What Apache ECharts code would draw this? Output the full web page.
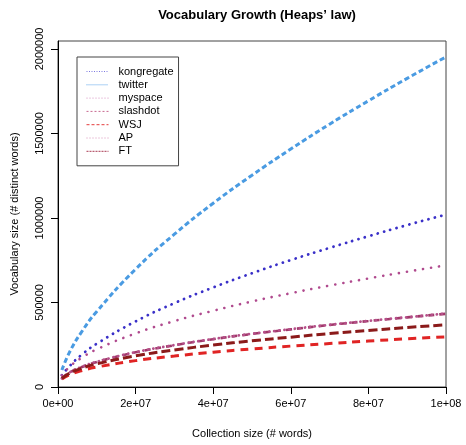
<!DOCTYPE html>
<html lang="en">

<head>
    <meta charset="UTF-8">
    <title>Vocabulary Growth</title>
    <script src="https://cdn.jsdelivr.net/npm/echarts@6/dist/echarts.min.js"></script>
    <style>
        body { margin: 0; background: #fff; }
        #container { width: 466px; height: 445px; }
    </style>
</head>

<body>
    <div id="container"></div>
    <script>
        var sizes = [1e6, 3e6, 6e6, 1e7, 2e7, 3e7, 4e7, 5e7, 6e7, 7e7, 8e7, 9e7, 1e8];

        // vocabulary sizes, thousands of distinct words
        var kongregate = [70, 124, 189, 256, 388, 496, 589, 673, 751, 823, 892, 958, 1020];
        var twitter = [100, 207, 323, 447, 697, 904, 1087, 1253, 1408, 1555, 1693, 1826, 1953];
        var myspace = [69, 120, 171, 223, 317, 390, 451, 506, 555, 600, 642, 682, 720];
        var slashdot = [51, 85, 117, 148, 205, 247, 283, 314, 341, 367, 390, 412, 433];
        var wsj = [47, 73, 96, 118, 156, 183, 206, 225, 242, 257, 272, 285, 297];
        var ap = [52, 86, 118, 149, 206, 248, 284, 315, 342, 368, 391, 413, 435];
        var ft = [51, 81, 110, 137, 184, 219, 248, 273, 295, 316, 334, 352, 368];

        var xTicks = [0, 2e7, 4e7, 6e7, 8e7, 1e8];
        var yTicks = [0, 500000, 1000000, 1500000, 2000000];

        function sci(v) {
            if (v === 0) return '0e+00';
            var e = Math.floor(Math.log10(v));
            var m = Math.round(v / Math.pow(10, e) * 100) / 100;
            return m + 'e+' + (e < 10 ? '0' + e : e);
        }

        function pairs(vals) {
            var out = [];
            for (var i = 0; i < sizes.length; i++) {
                out.push([sizes[i], vals[i] * 1000]);
            }
            return out;
        }

        function line(name, vals, color, width, dash, cap) {
            return {
                name: name,
                type: 'line',
                data: pairs(vals),
                smooth: true,
                symbol: 'none',
                silent: true,
                color: color,
                lineStyle: { color: color, width: width, type: dash, cap: cap }
            };
        }

        // thin legend samples, like the plot's key
        function key(name, color, dash) {
            return { name: name, lineStyle: { color: color, width: 1, type: dash, cap: 'butt' } };
        }

        var font = 'Liberation Sans, Arial, sans-serif';
        var chart = echarts.init(document.getElementById('container'));

        chart.setOption({
            animation: false,
            backgroundColor: '#fff',
            textStyle: { fontFamily: font },
            title: {
                text: 'Vocabulary Growth (Heaps’ law)',
                left: 252,
                textAlign: 'center',
                top: 4,
                textStyle: { fontSize: 13, fontWeight: 'bold', color: '#000', fontFamily: font }
            },
            legend: {
                orient: 'vertical',
                left: 77,
                top: 57,
                padding: [9, 5, 9, 9],
                itemGap: 2.3,
                itemWidth: 22,
                itemHeight: 10,
                borderColor: '#444',
                borderWidth: 1,
                borderRadius: 0,
                itemStyle: { opacity: 0 },
                textStyle: { fontSize: 11, color: '#000', fontFamily: font, padding: [0, 0, 0, 5] },
                data: [
                    key('kongregate', '#7c78e0', [1, 1.5]),
                    key('twitter', '#5aa4ec', [1, 1]),
                    key('myspace', '#d890c0', [1, 2]),
                    key('slashdot', '#c86890', [2, 2]),
                    key('WSJ', '#e43c3c', [3, 2]),
                    key('AP', '#d890b8', [1, 2]),
                    key('FT', '#a83850', [2, 1])
                ]
            },
            grid: {
                left: 58, right: 20, top: 41, bottom: 58,
                show: true, borderColor: '#444', borderWidth: 1
            },
            xAxis: {
                type: 'value',
                min: 0, max: 1e8, interval: 2e7,
                name: 'Collection size (# words)',
                nameLocation: 'middle',
                nameGap: 41,
                nameTextStyle: { fontSize: 11, color: '#000' },
                axisLine: { show: true, lineStyle: { color: '#000' } },
                axisTick: { show: true, length: 7, lineStyle: { color: '#000' }, customValues: xTicks },
                axisLabel: { fontSize: 11, color: '#000', margin: 11, formatter: sci, customValues: xTicks },
                splitLine: { show: false }
            },
            yAxis: {
                type: 'value',
                min: 0, max: 2047000,
                name: 'Vocabulary size (# distinct words)',
                nameLocation: 'middle',
                nameGap: 38,
                nameTextStyle: { fontSize: 11, color: '#000' },
                axisLine: { show: true, lineStyle: { color: '#000' } },
                axisTick: { show: true, length: 7, lineStyle: { color: '#000' }, customValues: yTicks },
                axisLabel: {
                    fontSize: 11, color: '#000', margin: 13, rotate: 90,
                    formatter: function (v) { return String(v); },
                    customValues: yTicks
                },
                splitLine: { show: false }
            },
            series: [
                line('kongregate', kongregate, '#3a30c8', 2.8, [0.1, 6.5], 'round'),
                line('twitter', twitter, '#4a9be2', 3, [5, 3], 'butt'),
                line('myspace', myspace, '#b04a8e', 2.6, [0.1, 8], 'round'),
                line('slashdot', slashdot, '#a03868', 2.6, [6, 5], 'butt'),
                line('WSJ', wsj, '#e02424', 3, [8, 6], 'butt'),
                line('AP', ap, '#b5508a', 2.8, [0.1, 5], 'round'),
                line('FT', ft, '#8b1a1a', 3, [9, 4], 'butt')
            ]
        });
    </script>
</body>

</html>
